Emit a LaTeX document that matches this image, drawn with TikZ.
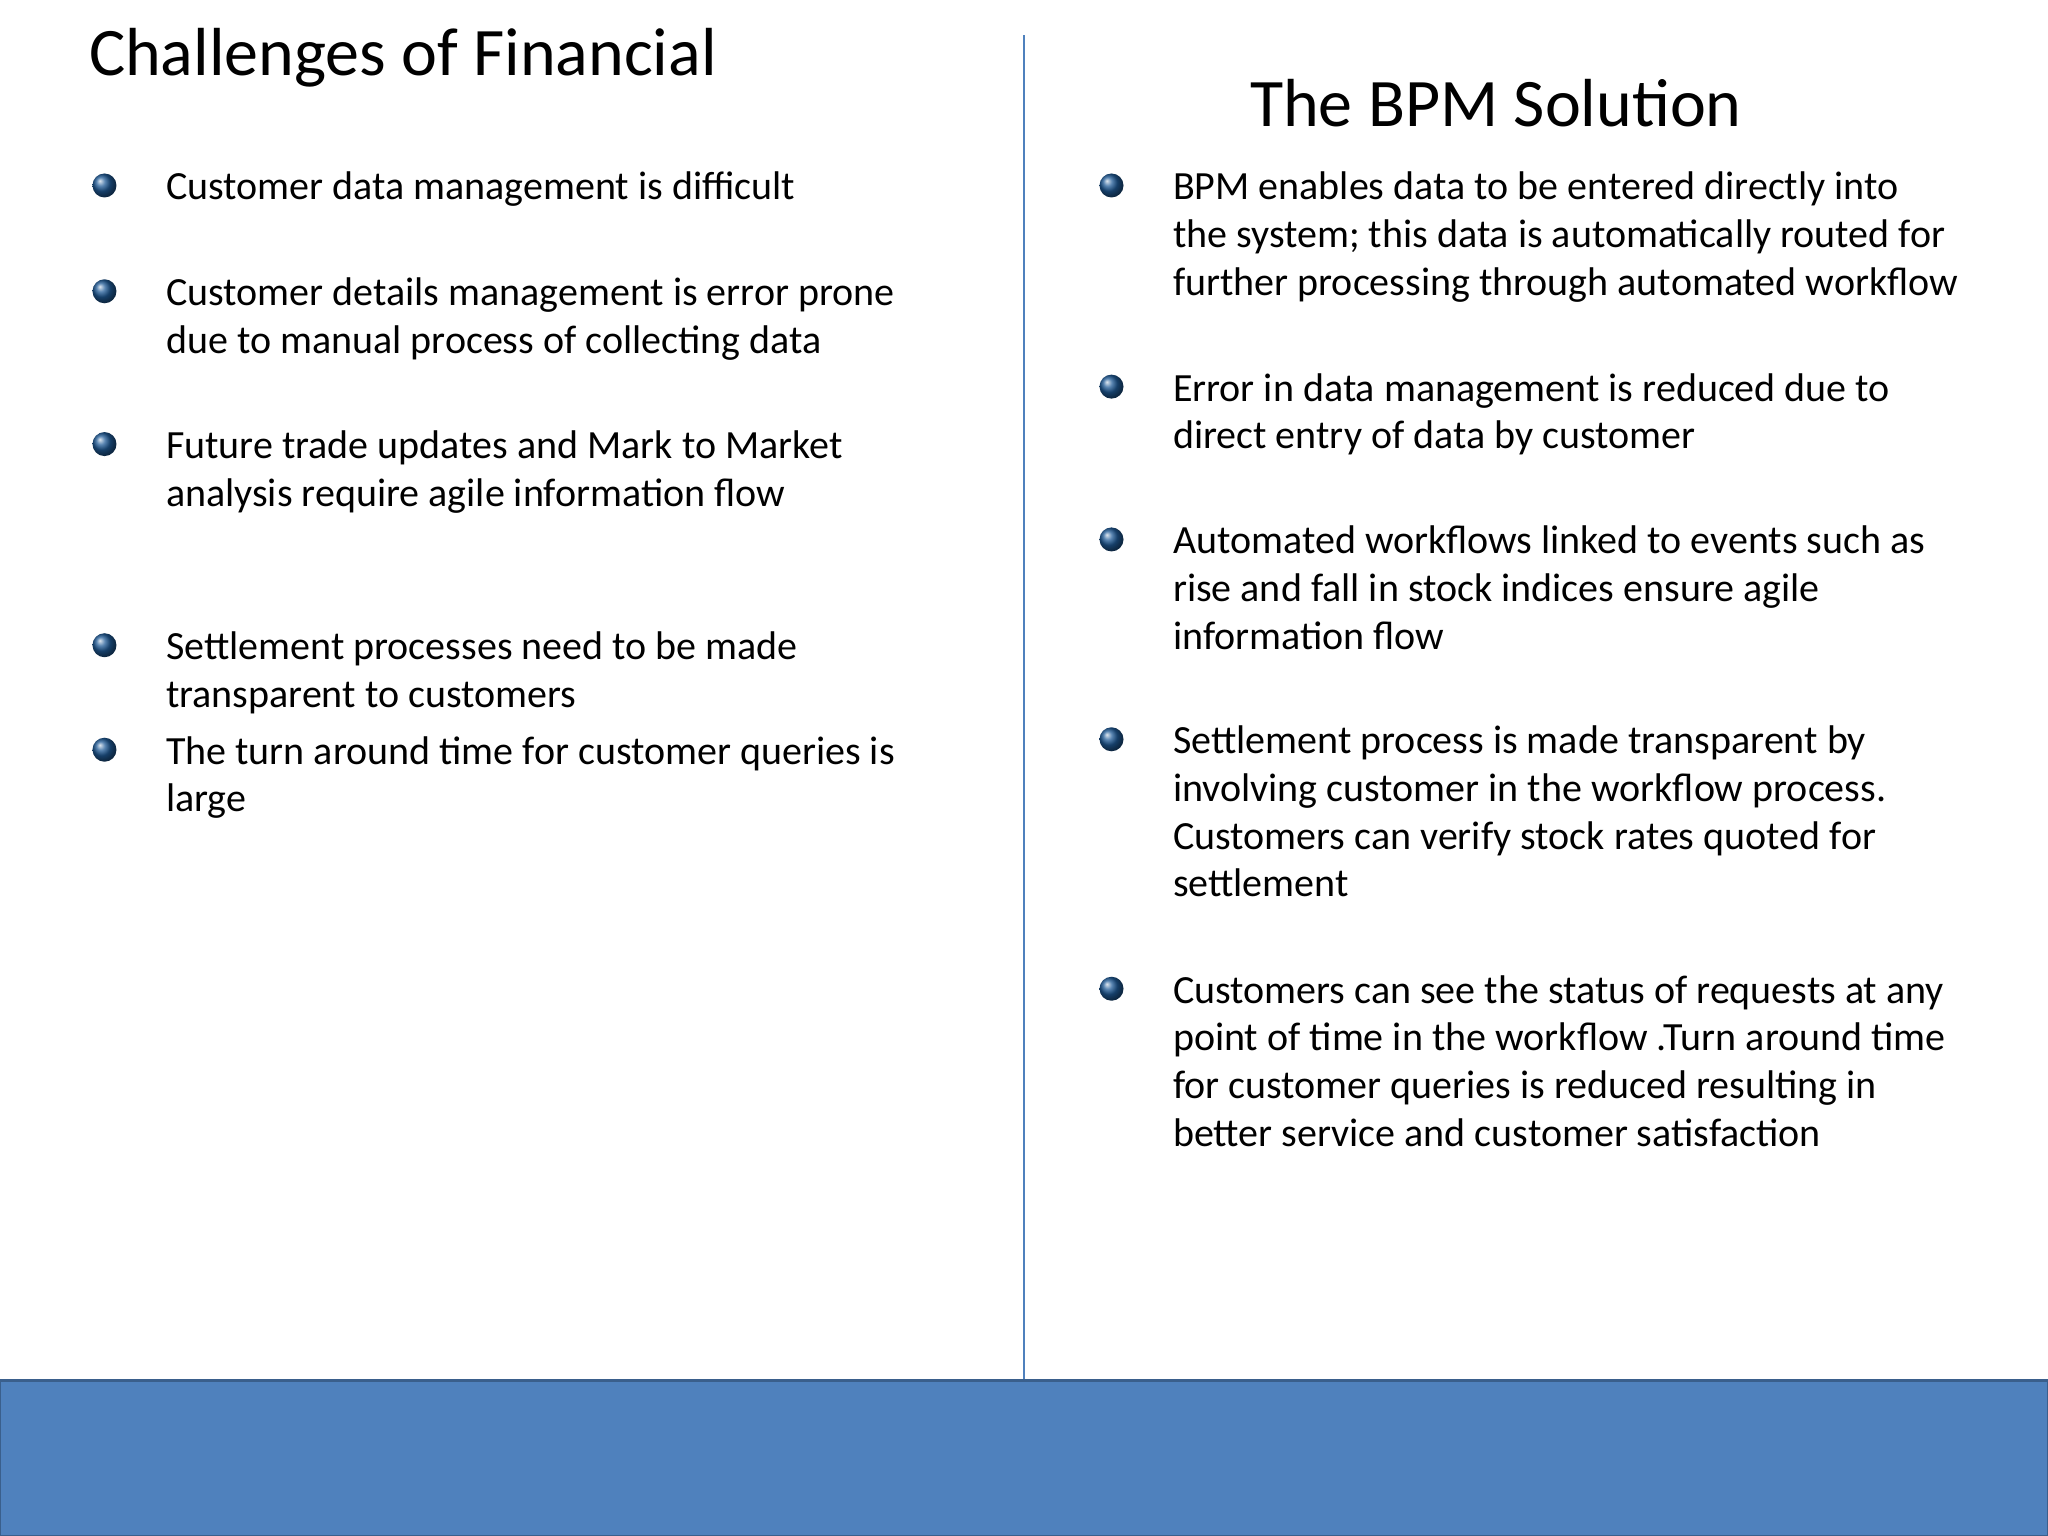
\documentclass[tikz,border=0pt]{standalone}
\usepackage{fontspec}
\setmainfont{Carlito}
\definecolor{band}{HTML}{4F81BD}
\definecolor{bandline}{HTML}{3A5F8C}
\definecolor{ballc}{HTML}{1F5A96}
\tikzset{
 body/.style={anchor=north west,inner sep=0pt,align=left,font=\fontsize{40}{47.7}\selectfont,text=black},
 ttl/.style={anchor=base west,inner sep=0pt,font=\fontsize{68}{75}\selectfont,text=black},
 ball/.style={circle,minimum size=24pt,inner sep=0pt,shading=ball,ball color=ballc}
}
\begin{document}
\begin{tikzpicture}[x=1.306pt,y=-1.306pt]
\useasboundingbox (0,0) rectangle (1568,1176);
\fill[white] (0,0) rectangle (1568,1176);
\draw[band,line width=2pt] (784,27) coordinate(vt) -- (784,1057) coordinate(vb);
\draw[fill=band,draw=bandline,line width=2.5pt] (0,1057) rectangle (1568,1176);
\node[ttl] (t1) at (68,58) {Challenges of Financial};
\node[ttl] (t2) at (957,97) {The BPM Solution};
% left
\foreach \n/\y/\t in {l1/153/{Customer data management is difficult},
 l2/234/{Customer details management is error prone\\due to manual process of collecting data},
 l3/351/{Future trade updates and Mark to Market\\analysis require agile information flow},
 l4/505/{Settlement processes need to be made\\transparent to customers},
 l5/585/{The turn around time for customer queries is\\large}}{
 \node[ball] (b\n) at (80,\y-11) {};
 \node[body] (\n) at (127,\y-25.6) {\strut\t};
}
\foreach \n/\y/\t in {r1/153/{BPM enables data to be entered directly into\\the system; this data is automatically routed for\\further processing through automated workflow},
 r2/307/{Error in data management is reduced due to\\direct entry of data by customer},
 r3/424/{Automated workflows linked to events such as\\rise and fall in stock indices ensure agile\\information flow},
 r4/577/{Settlement process is made transparent by\\involving customer in the workflow process.\\Customers can verify stock rates quoted for\\settlement},
 r5/768/{Customers can see the status of requests at any\\point of time in the workflow .Turn around time\\for customer queries is reduced resulting in\\better service and customer satisfaction}}{
 \node[ball] (b\n) at (851,\y-11) {};
 \node[body] (\n) at (898,\y-25.6) {\strut\t};
}
\end{tikzpicture}
\end{document}
